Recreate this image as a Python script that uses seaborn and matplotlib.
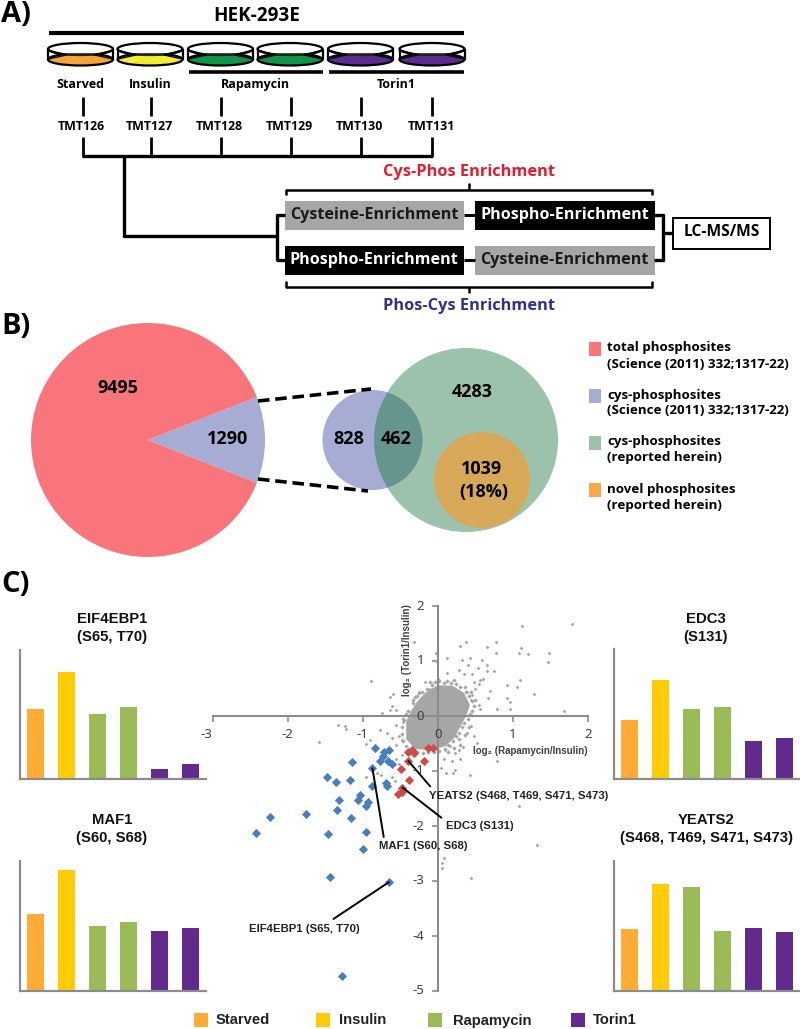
import matplotlib
matplotlib.use("Agg")
import matplotlib.pyplot as plt
import pandas as pd
import seaborn as sns
from matplotlib.patches import Circle, Ellipse, Rectangle

# ---------- data ----------
conditions = ["Starved", "Insulin", "Rapamycin", "Torin1"]
condition_colors = ["#FFAB36", "#FFCB05", "#9BBB59", "#632A8E"]
bar_samples = ["Starved", "Insulin", "Rapamycin A", "Rapamycin B", "Torin1 A", "Torin1 B"]
bar_colors = ["#FFAB36", "#FFCB05", "#9BBB59", "#9BBB59", "#632A8E", "#632A8E"]
eif4ebp1_vals = [70, 107, 65, 72, 10, 15]
maf1_vals = [77, 121, 65, 69, 60, 63]
edc3_vals = [59, 99, 70, 72, 38, 41]
yeats2_vals = [62, 107, 104, 60, 63, 59]

pie_vals = [1290, 9495]

blue_x = [-0.84,-0.65,-0.72,-0.73,-0.77,-0.66,-0.61,-1.14,-0.87,-1.48,-1.35,-1.17,-0.69,-0.67,-0.88,-1.04,
          -1.06,-1.31,-0.93,-0.96,-1.34,-1.76,-2.24,-1.16,-2.42,-1.46,-0.96,-0.99,-1.43,-0.65,-1.27]
blue_y = [-0.58,-0.61,-0.66,-0.73,-0.82,-0.81,-0.88,-0.84,-0.95,-1.10,-1.20,-1.16,-1.22,-1.28,-1.27,-1.44,
          -1.52,-1.53,-1.56,-1.64,-1.71,-1.78,-1.83,-1.85,-2.12,-2.15,-2.10,-2.41,-2.92,-3.02,-4.72]
red_x = [-0.39,-0.34,-0.32,-0.13,-0.06,-0.39,-0.18,-0.49,-0.38,-0.48,-0.53,-0.47]
red_y = [-0.66,-0.62,-0.67,-0.58,-0.59,-0.82,-0.82,-0.96,-1.16,-1.30,-1.42,-1.38]

# dense centre of the grey cloud, read as an outline
core_x = [-0.42,-0.36,-0.28,-0.17,0.00,0.20,0.35,0.43,0.38,0.30,0.22,0.10,-0.10,-0.30,-0.42]
core_y = [-0.10,0.08,0.25,0.42,0.56,0.55,0.42,0.20,0.00,-0.20,-0.40,-0.55,-0.62,-0.60,-0.42]

# fringe directly around the core
ring_x = [-0.30,-0.40,-0.33,-0.27,-0.21,-0.14,-0.08,-0.03,0.02,0.08,0.13,0.18,0.24,0.30,0.38,0.42,0.46,0.48,0.46,0.43,
          0.40,0.35,0.32,0.28,0.24,0.20,0.14,0.10,0.02,-0.05,-0.13,-0.20,-0.27,-0.35,-0.42,-0.46,-0.48,-0.48,-0.45,-0.42,
          -0.33,-0.25,0.37,0.44,-0.46,0.50,0.22,-0.10,0.42,0.36,0.29,0.30,0.22,0.14]
ring_y = [0.34,0.10,0.24,0.36,0.44,0.50,0.56,0.62,0.64,0.60,0.63,0.60,0.58,0.52,0.44,0.36,0.28,0.18,0.10,0.03,
          -0.06,-0.12,-0.20,-0.30,-0.36,-0.46,-0.52,-0.60,-0.64,-0.66,-0.66,-0.67,-0.65,-0.62,-0.54,-0.46,-0.32,-0.20,-0.08,0.04,
          0.30,0.42,0.52,0.44,-0.05,0.30,0.66,0.62,-0.20,-0.34,-0.42,-0.52,-0.58,-0.66]

# scattered outliers
grey_x = [1.79,1.12,0.38,0.30,0.78,0.66,0.78,1.08,1.11,1.21,1.49,1.47,0.12,-0.02,-0.02,0.32,0.43,0.59,0.66,0.40,
          0.54,0.66,0.75,0.28,0.35,0.46,1.10,1.06,0.93,0.57,0.61,0.48,0.55,0.50,0.70,0.67,1.29,0.93,0.97,0.79,
          0.96,1.69,0.57,0.55,0.46,0.39,0.44,-0.31,-0.17,-0.25,-0.59,-0.63,-0.61,-0.64,-0.56,-0.74,-0.10,0.00,0.12,-0.89,
          -1.33,-1.23,-1.22,-1.58,-0.90,-0.77,-0.68,-0.61,-0.52,-0.48,-0.55,-0.95,-0.46,-0.55,
          -0.81,-0.75,-0.95,-0.61,-0.57,-0.55,-0.48,-0.52,
          0.10,0.17,0.23,0.28,0.34,0.39,0.45,0.48,0.52,0.79,0.08,0.05,0.11,0.21,0.23,0.43,0.19,0.30,1.08,1.33,0.45,0.06,0.06,0.08]
grey_y = [1.67,1.64,1.34,1.27,1.34,1.26,1.14,1.15,1.23,1.13,1.15,0.98,1.06,1.15,1.00,1.01,1.05,1.02,0.93,0.92,
          0.88,0.82,0.82,0.84,0.76,0.76,0.65,0.53,0.56,0.65,0.67,0.62,0.59,0.50,0.46,0.32,0.40,0.32,0.26,0.12,
          0.12,0.10,0.12,0.20,0.38,0.44,0.29,1.34,0.62,0.44,0.40,0.34,0.18,0.11,0.11,0.05,0.50,0.68,0.78,0.63,
          -0.16,-0.18,-0.24,-0.48,-0.43,-0.25,-0.31,-0.40,-0.37,-0.43,-0.52,-0.50,-0.10,-0.16,
          -1.04,-1.07,-1.10,-1.10,-1.19,-0.79,-0.70,-0.88,
          -0.61,-0.55,-0.67,-0.61,-0.56,-0.31,-0.19,-0.37,-0.49,-0.82,-0.79,-0.95,-1.04,-1.04,-0.98,-1.07,-0.82,-0.79,-1.63,-2.35,-2.95,-2.67,-2.76,-2.58]

dish_colors = ["#F7A33A", "#F2EC33", "#0F9448", "#0F9448", "#5C2D91", "#5C2D91"]
dish_labels = ["TMT126", "TMT127", "TMT128", "TMT129", "TMT130", "TMT131"]

# ---------- figure ----------
sns.set_theme(style="white")
DIAG = ["Open Sans", "DejaVu Sans"]
HELV = ["Liberation Sans", "DejaVu Sans"]
W, H = 800, 1029
fig = plt.figure(figsize=(8, 10.29), dpi=100, facecolor="white")

def pxaxes(l, t, r, b, **kw):
    return fig.add_axes([l / W, 1 - b / H, (r - l) / W, (b - t) / H], **kw)

ov = fig.add_axes([0, 0, 1, 1], zorder=10)
ov.set_xlim(0, W); ov.set_ylim(H, 0); ov.axis("off"); ov.patch.set_alpha(0)

def line(xs, ys, lw=2.2, c="black", **kw):
    ov.plot(xs, ys, color=c, lw=lw, solid_capstyle="butt", **kw)

def label(x, y, s, size, fam=DIAG, c="black", ha="center", weight="bold", **kw):
    ov.text(x, y, s, fontsize=size, family=fam, color=c, ha=ha, va="center", weight=weight, **kw)

# ---------- panel A ----------
label(1, 14, "A)", 21, ha="left")
label(257, 16, "HEK-293E", 13.6)
line([49, 464], [33, 33], lw=3)
dish_x = [80.5, 150, 220.5, 290, 360.5, 432]
for x, col in zip(dish_x, dish_colors):
    ov.add_patch(Rectangle((x - 32, 49), 64, 11, fc="white", ec="none"))
    ov.add_patch(Ellipse((x, 59.5), 65, 12, fc=col, ec="black", lw=1.6))
    ov.add_patch(Ellipse((x, 49), 65, 12, fc="white", ec="black", lw=1.6))
    ov.add_patch(Ellipse((x, 54.5), 40, 3, fc="#2a2a1a", ec="none", alpha=.85))
    line([x - 32.5, x - 32.5], [49, 60], lw=1.6)
    line([x + 32.5, x + 32.5], [49, 60], lw=1.6)
    line([x - 32, x - 14], [50, 55], lw=.9); line([x - 32, x - 14], [59, 55], lw=.9)
    line([x + 32, x + 14], [50, 55], lw=.9); line([x + 32, x + 14], [59, 55], lw=.9)
line([189, 323], [72, 72], lw=2.6)
line([329, 464], [72, 72], lw=2.6)
for x, s in zip([80, 150, 255, 396], ["Starved", "Insulin", "Rapamycin", "Torin1"]):
    label(x, 84.5, s, 9)
tick_x = [82.5, 150.5, 220.5, 290.5, 360.5, 432]
for x, s in zip(tick_x, dish_labels):
    line([x, x], [97, 116], lw=2)
    label(x - 1, 126.5, s, 8.9)
    line([x, x], [137, 156], lw=2)
line([81.5, 433], [155.5, 155.5], lw=2.4)
line([124, 124], [155, 236.5], lw=2.4)
line([123, 277], [236, 236], lw=2.4)
line([277, 277], [214, 260], lw=2.4)
for y in (215, 259.5):
    line([276, 285], [y, y], lw=2.4)
    line([464, 475], [y, y], lw=2.2)
    line([654, 664], [y, y], lw=2.4)
line([663, 663], [214, 260.5], lw=2.4)
line([663, 673], [233, 233], lw=2.4)
GR, BK = "#A6A6A6", "#000000"
for x0, y0, fc, tc, s in [(284.5, 201, GR, "#1a1a1a", "Cysteine-Enrichment"), (475, 201, BK, "white", "Phospho-Enrichment"),
                          (284.5, 246, BK, "white", "Phospho-Enrichment"), (475, 246, GR, "#1a1a1a", "Cysteine-Enrichment")]:
    ov.add_patch(Rectangle((x0, y0), 179.5, 29, fc=fc, ec="none"))
    label(x0 + 89.5, y0 + 14, s, 11.6, c=tc)
ov.add_patch(Rectangle((673, 218), 97, 31, fc="white", ec="black", lw=1.4))
label(721.5, 232.5, "LC-MS/MS", 11.2)
line([286, 286, 652, 652], [195, 189.5, 189.5, 195], lw=1.8)
line([469, 469], [183, 189.5], lw=1.8)
line([286, 286, 652, 652], [281, 286.5, 286.5, 281], lw=1.8)
line([469, 469], [286.5, 293], lw=1.8)
label(469, 172, "Cys-Phos Enrichment", 11.8, c="#E8192C")
label(469, 305.5, "Phos-Cys Enrichment", 11.8, c="#2E3192")

# ---------- panel B ----------
label(1, 327, "B)", 21, ha="left")
ax_pie = pxaxes(31, 323, 265, 557)
ax_pie.pie(pie_vals, colors=["#A6ACD4", "#F8767B"], startangle=-21.5, radius=1.0, center=(0, 0),
           wedgeprops=dict(lw=0))
ax_pie.set_xlim(-1, 1); ax_pie.set_ylim(-1, 1)
label(118, 388, "9495", 13)
label(228, 439, "1290", 13)
line([258, 371], [401, 389], lw=2.6, ls=(0, (3.2, 1.6)))
line([258, 368], [479, 491], lw=2.6, ls=(0, (3.2, 1.6)))
big = Circle((466, 440), 92, fc="#9CC2AC", ec="none")
ov.add_patch(big)
ov.add_patch(Circle((372.5, 440), 50, fc="#A6ACD4", ec="none"))
overlap = Circle((372.5, 440), 50, fc="#66958F", ec="none")
ov.add_patch(overlap); overlap.set_clip_path(big)
ov.add_patch(Circle((482, 480), 48, fc="#D6A858", ec="none"))
label(349, 438.5, "828", 13)
label(396, 438.5, "462", 13)
label(472, 392, "4283", 13)
label(482, 469, "1039", 13)
label(484, 492, "(18%)", 13)
for y, col, a, b in [(349, "#F8767B", "total phosphosites", "(Science (2011) 332;1317-22)"),
                     (396, "#A6ACD4", "cys-phosphosites", "(Science (2011) 332;1317-22)"),
                     (443, "#9CC2AC", "cys-phosphosites", "(reported herein)"),
                     (490, "#F5A94A", "novel phosphosites", "(reported herein)")]:
    ov.add_patch(Rectangle((589, y - 7), 12, 14, fc=col, ec="none"))
    label(607, y - 1, a, 9.6, ha="left")
    label(607, y + 15, b, 9.6, ha="left")

# ---------- panel C: bars ----------
label(1, 585, "C)", 21, ha="left")
def bars(vals, l, t, r, b):
    ax = pxaxes(l, t, r, b)
    df = pd.DataFrame({"sample": bar_samples, "value": vals})
    sns.barplot(df, x="sample", y="value", hue="sample", order=bar_samples, hue_order=bar_samples,
                palette=bar_colors, width=0.57, legend=False, saturation=1, ax=ax, linewidth=0)
    ax.set_xlim(-0.5, 5.5); ax.set_ylim(0, b - t)
    ax.set_xticks([]); ax.set_yticks([]); ax.set_xlabel(""); ax.set_ylabel("")
    sns.despine(ax=ax)
    for k in ("left", "bottom"):
        ax.spines[k].set_color("#8C8C8C"); ax.spines[k].set_linewidth(1.6)
    ax.patch.set_alpha(0)

bars(eif4ebp1_vals, 20, 650, 206, 779)
bars(maf1_vals, 20, 861, 206, 991)
bars(edc3_vals, 614, 649, 800, 779)
bars(yeats2_vals, 614, 861, 800, 991)
for x, y, a, b in [(112, 619, "EIF4EBP1", "(S65, T70)"), (112, 820, "MAF1", "(S60, S68)"),
                   (706, 619, "EDC3", "(S131)"), (706, 820, "YEATS2", "(S468, T469, S471, S473)")]:
    label(x, y, a, 10.7, fam=HELV, c="#111111")
    label(x, y + 18, b, 10.7, fam=HELV, c="#111111")

# ---------- panel C: scatter ----------
ax = pxaxes(212.7, 606, 587.7, 991)
ax.patch.set_alpha(0)
ax.fill(core_x, core_y, color="#A6A6A6", lw=0, zorder=2)
sns.scatterplot(x=ring_x, y=ring_y, color="#A6A6A6", s=5, marker="D", linewidth=0, ax=ax, zorder=2)
sns.scatterplot(x=grey_x, y=grey_y, color="#A6A6A6", s=3.5, marker="D", linewidth=0, ax=ax, zorder=2)
sns.scatterplot(x=blue_x, y=blue_y, color="#4A7EBB", s=22, marker="D", linewidth=0, ax=ax, zorder=3)
sns.scatterplot(x=red_x, y=red_y, color="#CE4B47", s=22, marker="D", linewidth=0, ax=ax, zorder=3)
ax.set_xlim(-3, 2); ax.set_ylim(-5, 2)
for k in ("top", "right"):
    ax.spines[k].set_visible(False)
for k in ("left", "bottom"):
    ax.spines[k].set_position(("data", 0))
    ax.spines[k].set_color("#8C8C8C"); ax.spines[k].set_linewidth(1.5)
ax.set_xticks([-3, -2, -1, 0, 1, 2]); ax.set_yticks([-5, -4, -3, -2, -1, 0, 1, 2])
ax.tick_params(axis="both", length=4, width=1.2, color="#8C8C8C", direction="out", left=True, bottom=True,
               top=False, right=False, labelleft=False, labelbottom=False)
for xv in [-3, -2, -1, 0, 1, 2]:
    ov.text(437.7 + 75 * xv - (6 if xv == -3 else 0), 735, str(xv), fontsize=9.5, family=["Noto Sans"], color="#404040", ha="center", va="center")
for yv in [2, 1, 0, -1, -2, -3, -4, -5]:
    ov.text(424, 716 - 55 * yv, str(yv), fontsize=9.5, family=["Noto Sans"], color="#404040", ha="right", va="center")
ov.text(473, 750.5, "log₂ (Rapamycin/Insulin)", fontsize=7, family=HELV, weight="bold", color="#404040", ha="left", va="center")
ov.text(407, 650, "log₂ (Torin1/Insulin)", fontsize=7, family=HELV, weight="bold", color="#404040", ha="center", va="center", rotation=90)

for (x0, y0, x1, y1, tx, ty, s) in [
        (-0.39, -0.82, -0.10, -1.28, -0.12, -1.45, "YEATS2 (S468, T469, S471, S473)"),
        (-0.47, -1.30, 0.05, -1.85, 0.107, -2.0, "EDC3 (S131)"),
        (-0.87, -0.95, -0.72, -2.2, -0.78, -2.37, "MAF1 (S60, S68)"),
        (-0.65, -3.02, -1.39, -3.69, -2.515, -3.87, "EIF4EBP1 (S65, T70)")]:
    ax.plot([x0, x1], [y0, y1], color="black", lw=1.4, zorder=4)
    ax.text(tx, ty, s, fontsize=8.2, family=HELV, weight="bold", color="#222222", ha="left", va="center", zorder=5)

# ---------- bottom legend ----------
for x0, tx, col, s in zip([194, 315.7, 428, 570.7], [216, 339, 453, 593], condition_colors, conditions):
    ov.add_patch(Rectangle((x0, 1013), 14, 14, fc=col, ec="none"))
    label(tx, 1020.5, s, 10.6, fam=HELV, ha="left", c="#222222")

fig.savefig("out.png", dpi=100, facecolor="white")
